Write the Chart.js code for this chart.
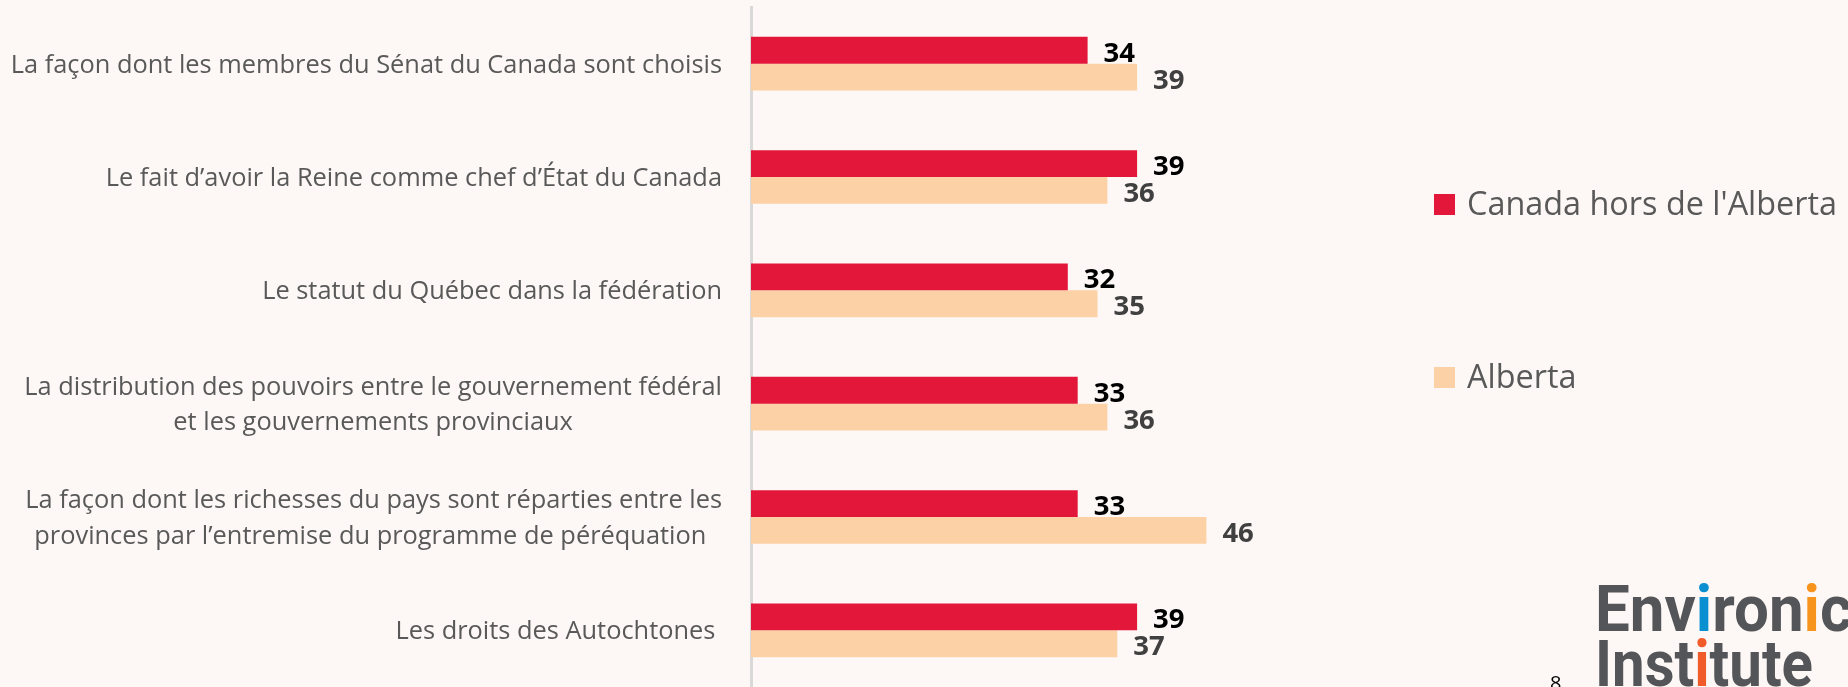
<!DOCTYPE html>
<html>
<head>
<meta charset="utf-8">
<script src="https://cdn.jsdelivr.net/npm/chart.js@4"></script>
<style>
  html, body { margin: 0; padding: 0; background: #fdf8f5; }
  #wrap { position: relative; width: 1848px; height: 687px; }
</style>
</head>
<body>
<div id="wrap"><canvas id="graf"></canvas></div>
<script>
const categories = [
  'La façon dont les membres du Sénat du Canada sont choisis',
  'Le fait d’avoir la Reine comme chef d’État du Canada',
  'Le statut du Québec dans la fédération',
  ['La distribution des pouvoirs entre le gouvernement fédéral', 'et les gouvernements provinciaux'],
  ['La façon dont les richesses du pays sont réparties entre les', 'provinces par l’entremise du programme de péréquation '],
  'Les droits des Autochtones ',
];
const seriesNames = ["Canada hors de l'Alberta", 'Alberta'];
const outsideAlberta = [34, 39, 32, 33, 33, 39];
const alberta = [39, 36, 35, 36, 46, 37];

const red = '#e2173a';
const peach = '#fcd1a6';
const labelColors = ['#000000', '#404040'];

Chart.defaults.font.family = '"Open Sans", sans-serif';

// category labels: block right-aligned to the axis, lines centred inside the block
const categoryLabels = {
  id: 'categoryLabels',
  afterDraw(chart) {
    const ctx = chart.ctx;
    const yScale = chart.scales.y;
    const right = chart.chartArea.left - 29;
    const lh = 35.4;
    ctx.save();
    ctx.font = '25.4px "Open Sans"';
    ctx.fillStyle = '#595959';
    ctx.textAlign = 'center';
    ctx.textBaseline = 'alphabetic';
    chart.data.labels.forEach((lab, i) => {
      const lines = Array.isArray(lab) ? lab : [lab];
      const w = Math.max(...lines.map((l) => ctx.measureText(l).width));
      const cx = right - w / 2;
      const cy = yScale.getPixelForValue(i);
      lines.forEach((l, k) => {
        const y = cy + (k - (lines.length - 1) / 2) * lh + 9.1;
        ctx.fillText(l, cx, y);
      });
    });
    ctx.restore();
  },
};

// value labels next to each bar
const valueLabels = {
  id: 'valueLabels',
  afterDatasetsDraw(chart) {
    const ctx = chart.ctx;
    ctx.save();
    ctx.font = 'bold 27.5px "Open Sans"';
    ctx.textAlign = 'left';
    ctx.textBaseline = 'alphabetic';
    chart.data.datasets.forEach((ds, i) => {
      ctx.fillStyle = labelColors[i];
      chart.getDatasetMeta(i).data.forEach((bar, j) => {
        ctx.fillText(ds.data[j], bar.x + 16, bar.y + 11.5);
      });
    });
    ctx.restore();
  },
};

// legend on the right, logo and page number
const sideStuff = {
  id: 'sideStuff',
  afterDraw(chart) {
    const ctx = chart.ctx;
    ctx.save();
    const legendY = [204.5, 377.5];
    chart.data.datasets.forEach((ds, i) => {
      ctx.fillStyle = ds.backgroundColor;
      ctx.fillRect(1434, legendY[i] - 10.5, 21, 21);
      ctx.fillStyle = '#595959';
      ctx.font = '32.4px "Open Sans"';
      ctx.textBaseline = 'middle';
      ctx.fillText(ds.label, 1467, legendY[i] + 1);
    });

    // page number
    ctx.fillStyle = '#000';
    ctx.font = '20px "Open Sans"';
    ctx.textBaseline = 'alphabetic';
    ctx.fillText('8', 1550, 690);

    // logo
    const grey = '#545558';
    const drawWord = (parts, x, y, targetW, refText) => {
      ctx.font = 'bold 64px Roboto';
      const k = targetW / ctx.measureText(refText).width;
      ctx.save();
      ctx.translate(x, y);
      ctx.scale(k, 1);
      let cx = 0;
      parts.forEach(([t, c]) => {
        ctx.fillStyle = c;
        ctx.fillText(t, cx, 0);
        cx += ctx.measureText(t).width;
      });
      ctx.restore();
    };
    drawWord([['Env', grey], ['i', '#0a8fd1'], ['ron', grey], ['i', '#f7941d'], ['c', grey]],
      1595, 631, 225, 'Environi');
    drawWord([['Inst', grey], ['i', '#f15a29'], ['tute', grey]],
      1595, 686, 218, 'Institute');
    ctx.restore();
  },
};

const data = {
  labels: categories,
  datasets: [
    { label: seriesNames[0], data: outsideAlberta, backgroundColor: red },
    { label: seriesNames[1], data: alberta, backgroundColor: peach },
  ],
};

const config = {
  type: 'bar',
  data: data,
  options: {
    indexAxis: 'y',
    responsive: true,
    maintainAspectRatio: false,
    animation: false,
    barPercentage: 1,
    categoryPercentage: 0.473,
    layout: { padding: { top: 7, right: 602, bottom: 0, left: 0 } },
    plugins: {
      legend: { display: false },
      tooltip: { enabled: false },
    },
    scales: {
      x: { display: false, min: 0, max: 50 },
      y: {
        afterFit: (scale) => {
          scale.width = 751;
          scale.paddingTop = 0;
          scale.paddingBottom = 0;
        },
        grid: { display: false, drawTicks: false },
        border: { display: true, color: '#d9d9d9', width: 3 },
        ticks: { display: false },
      },
    },
  },
  plugins: [categoryLabels, valueLabels, sideStuff],
};

const myChart = new Chart(document.getElementById('graf').getContext('2d'), config);
</script>
</body>
</html>
